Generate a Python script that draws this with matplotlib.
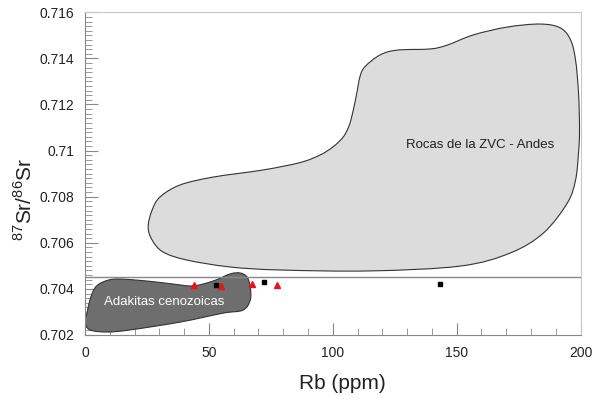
import matplotlib
matplotlib.use('Agg')
import matplotlib.pyplot as plt
import numpy as np
from matplotlib.path import Path
from matplotlib.patches import PathPatch
from matplotlib.ticker import MultipleLocator, FuncFormatter

plt.rcParams['font.family'] = ['Liberation Sans', 'DejaVu Sans']
plt.rcParams['mathtext.fontset'] = 'custom'
plt.rcParams['mathtext.rm'] = 'Liberation Sans'

# field outlines (Rb ppm, 87Sr/86Sr)
zvc_rb = [100.2, 94.9, 86.8, 71.9, 51.7, 38.4, 30.3, 27.1, 25.5, 27.1, 31.5, 41.2,
          58.6, 78.8, 115.2, 151.5, 171.7, 185.1, 194.7, 198.0, 199.2, 199.6, 199.2,
          198.0, 196.0, 191.9, 183.8, 170.5, 156.8, 146.3, 139.4, 126.1, 119.1,
          113.0, 111.0, 109.7, 108.3, 106.7, 104.3]
zvc_sr = [0.71017, 0.70981, 0.70948, 0.70916, 0.70885, 0.70851, 0.70799, 0.70742,
          0.70669, 0.70612, 0.70560, 0.70525, 0.70495, 0.70482, 0.70478, 0.70499,
          0.70556, 0.70643, 0.70773, 0.70872, 0.70990, 0.71089, 0.71250, 0.71393,
          0.71480, 0.71532, 0.71549, 0.71536, 0.71502, 0.71458, 0.71441, 0.71436,
          0.71415, 0.71364, 0.71321, 0.71249, 0.71176, 0.71111, 0.71060]

adk_rb = [0.0, 0.8, 2.0, 4.0, 7.3, 12.9, 25.1, 35.6, 43.6, 51.7, 58.6, 62.6, 65.4,
          66.7, 66.7, 63.8, 55.8, 38.4, 18.2, 9.0, 2.0]
adk_sr = [0.70256, 0.70295, 0.70352, 0.70404, 0.70430, 0.70443, 0.70434, 0.70421,
          0.70413, 0.70434, 0.70465, 0.70469, 0.70452, 0.70408, 0.70352, 0.70308,
          0.70295, 0.70256, 0.70222, 0.70213, 0.70222]

# samples
sq_rb = [52.9, 72.2, 143.4]
sq_sr = [0.70418, 0.70431, 0.70420]
tri_rb = [44.0, 54.9, 67.4, 77.5]
tri_sr = [0.70417, 0.70414, 0.70421, 0.70417]

ref_sr = 0.7045


def smooth_outline(xs, ys):
    # closed curve through the traced vertices (Catmull-Rom as cubic Beziers)
    p = np.column_stack([xs, ys])
    n = len(p)
    verts = [p[0]]
    codes = [Path.MOVETO]
    for i in range(n):
        p0, p1, p2, p3 = p[i - 1], p[i], p[(i + 1) % n], p[(i + 2) % n]
        verts += [p1 + (p2 - p0) / 6, p2 - (p3 - p1) / 6, p2]
        codes += [Path.CURVE4] * 3
    return Path(verts, codes)


fig = plt.figure(figsize=(5.96, 4.04), dpi=100)
ax = fig.add_axes([0.1426, 0.1708, 0.8314, 0.7988])
ax.set_xlim(0, 200)
ax.set_ylim(0.702, 0.716)

ax.add_patch(PathPatch(smooth_outline(zvc_rb, zvc_sr), facecolor='#dcdcdc',
                       edgecolor='#333333', linewidth=0.8, zorder=1))
ax.add_patch(PathPatch(smooth_outline(adk_rb, adk_sr), facecolor='#6e6e6e',
                       edgecolor='#333333', linewidth=0.8, zorder=2))

ax.axhline(ref_sr, color='#888888', linewidth=1.0, zorder=3)

ax.plot(sq_rb, sq_sr, linestyle='none', marker='s', markersize=3.3,
        color='black', zorder=5)
ax.plot(tri_rb, tri_sr, linestyle='none', marker='^', markersize=5,
        color='#e8141c', zorder=4)

ax.text(159.5, 0.71024, 'Rocas de la ZVC - Andes', fontsize=9.5,
        ha='center', va='center', color='#222222', zorder=6)
ax.text(31.9, 0.70344, 'Adakitas cenozoicas', fontsize=9.5,
        ha='center', va='center', color='white', zorder=6)

ax.xaxis.set_major_locator(MultipleLocator(50))
ax.xaxis.set_minor_locator(MultipleLocator(10))
ax.yaxis.set_major_locator(MultipleLocator(0.002))
ax.yaxis.set_minor_locator(MultipleLocator(0.0002))
ax.yaxis.set_major_formatter(FuncFormatter(lambda v, p: f'{v:g}'))

ax.tick_params(which='both', direction='in', color='#888888', labelsize=10,
               labelcolor='#222222', top=False, right=False)
ax.tick_params(which='major', length=9, pad=8)
ax.tick_params(which='minor', length=5)

for side in ['left', 'bottom']:
    ax.spines[side].set_color('#888888')
for side in ['top', 'right']:
    ax.spines[side].set_color('#c8c8c8')

ax.set_xlabel('Rb (ppm)', fontsize=15, color='#222222')
ax.set_ylabel(r'$^{87}$Sr/$^{86}$Sr', fontsize=15, color='#222222')
ax.xaxis.set_label_coords(0.52, -0.122)
ax.yaxis.set_label_coords(-0.10, 0.42)

fig.savefig('out.png', dpi=100, facecolor='white')
